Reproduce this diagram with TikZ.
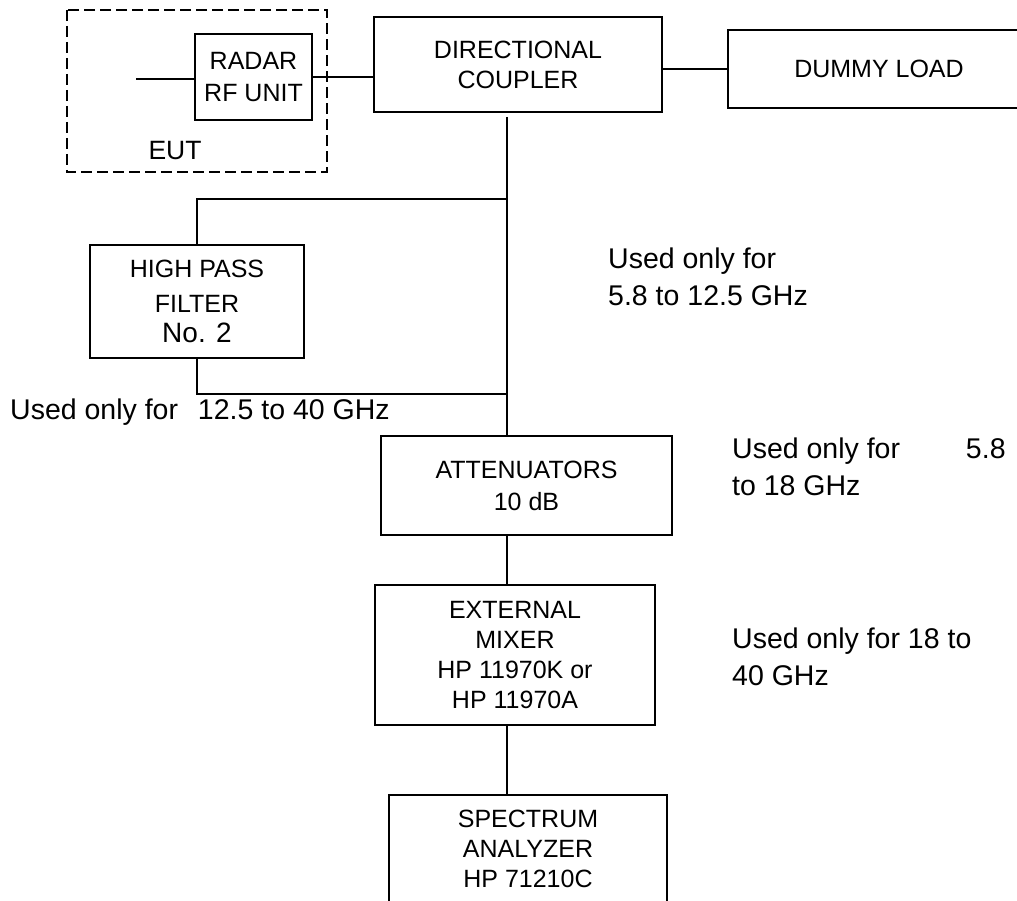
\documentclass[tikz,border=0pt]{standalone}
\usepackage{fontspec}
\setmainfont{Liberation Sans}
\usetikzlibrary{positioning}

\tikzset{
  blk/.style={draw, line width=1.5pt, align=center, inner sep=0pt, font=\fontsize{25}{30}\selectfont},
  wire/.style={line width=1.5pt},
  note/.style={inner sep=0pt, align=left, font=\fontsize{28.5}{37}\selectfont},
}

\begin{document}
\begin{tikzpicture}[x=1pt,y=-1pt]
  \clip (0,0) rectangle (1017,901);

  % EUT frame
  \draw[line width=2pt, dash pattern=on 11pt off 5pt] (67,10) rectangle (327,172);
  \node[inner sep=0pt, anchor=base, font=\fontsize{26.5}{30}\selectfont] (eut) at (175,160) {EUT};

  % Blocks
  \node[blk, minimum width=117pt, minimum height=86pt, font=\fontsize{25}{32}\selectfont] (radar) at (253.5,77) {RADAR\\RF UNIT};
  \node[blk, minimum width=288pt, minimum height=95pt] (coupler) at (518,64.5) {DIRECTIONAL\\COUPLER};
  \node[blk, minimum width=302pt, minimum height=78pt] (dummy) at (879,69) {DUMMY LOAD};
  \node[blk, minimum width=214pt, minimum height=113pt] (hpf) at (197,301.5) {HIGH PASS\\[5pt]FILTER\\{\fontsize{28}{30}\selectfont No. 2}};
  \node[blk, minimum width=291pt, minimum height=99pt] (att) at (526.5,485.5) {ATTENUATORS\\[2pt]10 dB};
  \node[blk, minimum width=280pt, minimum height=140pt] (mixer) at (515,655) {EXTERNAL\\MIXER\\HP 11970K or\\HP 11970A};
  \node[blk, minimum width=278pt, minimum height=108pt] (sa) at (528,849) {SPECTRUM\\ANALYZER\\HP 71210C};

  % Notes
  \node[note, anchor=north west] (noteA) at (608,248) {Used only for\\5.8 to 12.5 GHz};
  \node[note, anchor=base west] (noteB) at (10,419) {Used only for\hspace{12pt} 12.5 to 40 GHz};
  \node[note, anchor=north west] (noteC) at (732,438) {Used only for\hspace{58pt} 5.8\\to 18 GHz};
  \node[note, anchor=north west] (noteD) at (732,628) {Used only for 18 to\\40 GHz};

  % Connections
  \coordinate (stub) at (136,79);
  \coordinate (trunk) at (507,117);
  \coordinate (tapA) at (507,199);
  \coordinate (tapB) at (507,394);
  \draw[wire] (stub) -- (stub -| radar.west);
  \draw[wire] (radar.east) -- (radar.east -| coupler.west);
  \draw[wire] (coupler.east |- dummy.west) -- (dummy.west);
  \draw[wire] (trunk) -- (trunk |- att.north);
  \draw[wire] (tapA) -- (tapA -| hpf.north) -- (hpf.north);
  \draw[wire] (tapB) -- (tapB -| hpf.south) -- (hpf.south);
  \draw[wire] (trunk |- att.south) -- (trunk |- mixer.north);
  \draw[wire] (trunk |- mixer.south) -- (trunk |- sa.north);
\end{tikzpicture}
\end{document}
